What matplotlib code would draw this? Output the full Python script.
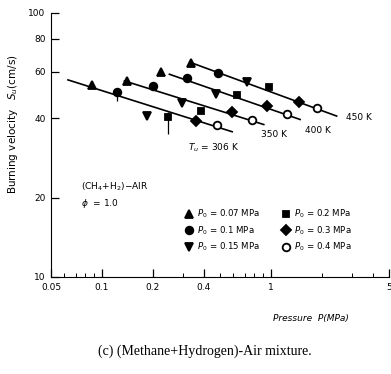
import matplotlib
matplotlib.use("Agg")
import matplotlib.pyplot as plt
from matplotlib.ticker import FixedLocator, NullLocator, LogLocator, NullFormatter

# initial pressures (legend) and unburned temperatures
p0_labels = ['0.07', '0.1', '0.15', '0.2', '0.3', '0.4']
tu_list = [306, 350, 400, 450]

# measured points, one value per P0 (MPa, cm/s)
p_306 = [0.087, 0.123, 0.184, 0.245, 0.360, 0.480]
s_306 = [53.5, 50.0, 40.9, 40.5, 38.9, 37.8]
p_350 = [0.141, 0.200, 0.298, 0.385, 0.590, 0.775]
s_350 = [55.3, 52.9, 45.8, 42.5, 42.0, 39.2]
p_400 = [0.224, 0.321, 0.472, 0.632, 0.949, 1.244]
s_400 = [60.0, 56.9, 49.5, 49.0, 44.5, 41.5]
p_450 = [0.336, 0.487, 0.724, 0.971, 1.458, 1.870]
s_450 = [64.9, 59.0, 55.0, 52.5, 46.2, 43.5]

# error bars (lower, upper) in cm/s
err_lo_306 = [0, 3.5, 0, 5.6, 0, 0]
err_hi_306 = [0, 1.5, 0, 1.5, 0, 0]
err_lo_400 = [0, 2.0, 0, 0, 0, 0]
err_hi_400 = [0, 2.0, 0, 0, 0, 0]

# fitted lines: start / end pressure and velocity
fit_p0 = [0.063, 0.136, 0.251, 0.336]
fit_p1 = [0.59, 0.908, 1.49, 2.45]
fit_s0 = [55.8, 55.3, 58.6, 64.9]
fit_s1 = [35.5, 37.8, 39.5, 40.7]

# line labels
lab_text = [r'$T_u$ = 306 K', '350 K', '400 K', '450 K']
lab_p = [0.325, 0.88, 1.60, 2.79]
lab_s = [30.9, 34.7, 35.9, 40.2]

all_p = [p_306, p_350, p_400, p_450]
all_s = [s_306, s_350, s_400, s_450]

markers = ['^', 'o', 'v', 's', 'D', 'o']
msizes = [5.5, 5.5, 5.5, 5, 5, 5.5]
faces = ['k', 'k', 'k', 'k', 'k', 'white']

fig = plt.figure(figsize=(3.91, 3.74), dpi=100)
ax = fig.add_axes([51/391, 97/374, 338/391, 264/374])

for i in range(len(tu_list)):
    ax.plot([fit_p0[i], fit_p1[i]], [fit_s0[i], fit_s1[i]], color='k', lw=1.2, zorder=2)
    ax.text(lab_p[i], lab_s[i], lab_text[i], fontsize=6.5, va='center', ha='left')

ax.errorbar(p_306, s_306, yerr=[err_lo_306, err_hi_306], fmt='none', ecolor='k', elinewidth=0.9)
ax.errorbar(p_400, s_400, yerr=[err_lo_400, err_hi_400], fmt='none', ecolor='k', elinewidth=0.9)

for j in range(len(p0_labels)):
    px = [all_p[i][j] for i in range(len(tu_list))]
    sy = [all_s[i][j] for i in range(len(tu_list))]
    ax.plot(px, sy, ls='none', marker=markers[j], ms=msizes[j], mfc=faces[j],
            mec='k', mew=1.3, zorder=3, label=r'$P_0$ = ' + p0_labels[j] + ' MPa')

ax.set_xscale('log')
ax.set_yscale('log')
ax.set_xlim(0.05, 5)
ax.set_ylim(10, 100)

ax.spines['top'].set_visible(False)
ax.spines['right'].set_visible(False)

ax.yaxis.set_major_locator(FixedLocator([10, 20, 40, 60, 80, 100]))
ax.yaxis.set_minor_locator(NullLocator())
ax.set_yticklabels(['10', '20', '40', '60', '80', '100'])
ax.xaxis.set_major_locator(FixedLocator([0.05, 0.1, 0.2, 0.4, 1, 5]))
ax.xaxis.set_minor_locator(LogLocator(base=10, subs=range(1, 10)))
ax.xaxis.set_minor_formatter(NullFormatter())
ax.set_xticklabels(['0.05', '0.1', '0.2', '0.4', '1', '5'])
ax.tick_params(axis='both', which='major', direction='in', length=6, width=0.9,
               labelsize=6.5, pad=4)
ax.tick_params(axis='x', which='minor', direction='in', length=3, width=0.7)

ax.set_ylabel(r'Burning velocity   $S_u$(cm/s)', fontsize=7.5)
ax.yaxis.set_label_coords(-0.092, 0.58)
ax.set_xlabel('Pressure  P(MPa)', fontsize=6.5, style='italic')
ax.xaxis.set_label_coords(0.77, -0.14)

ax.text(0.09, 0.33, r'(CH$_4$+H$_2$)$-$AIR', transform=ax.transAxes, fontsize=6.5)
ax.text(0.09, 0.27, r'$\phi$  = 1.0', transform=ax.transAxes, fontsize=6.5)

ax.legend(loc='upper left', bbox_to_anchor=(0.385, 0.275), ncol=2, frameon=False,
          fontsize=6.2, handlelength=1.0, handletextpad=0.5, columnspacing=2.4,
          labelspacing=0.45, borderaxespad=0)

fig.text(0.525, 0.06, '(c) (Methane+Hydrogen)-Air mixture.', ha='center',
         va='center', fontsize=10, family='Liberation Serif')

fig.savefig('out.png', dpi=100)
